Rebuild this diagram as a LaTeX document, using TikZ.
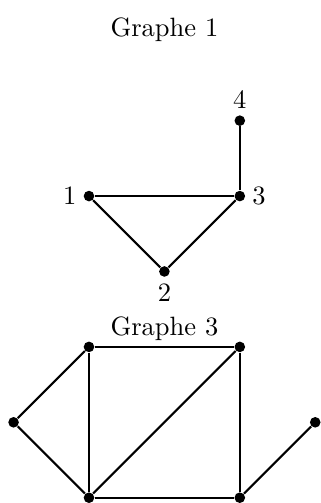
\documentclass[tikz,border=0pt]{standalone}
\usepackage{amsmath, amssymb}
\usepackage{xcolor}

\begin{document}
\begin{tikzpicture}[sommet/.style={circle, fill, inner sep=0pt, minimum size=4pt}, label distance=-1pt]
\useasboundingbox (-1.18,-4.07) rectangle (3.07,2.6);
\node (titre1) at (1,2.21) {Graphe 1};
\node (a1) [sommet, label=left:1] at (0,0) {};
\node (a2) [sommet, label=below:2] at (1,-1) {};
\node (a3) [sommet, label=right:3] at (2,0) {};
\node (a4) [sommet, label=above:4] at (2,1) {};

\draw [thick] (a1) -- (a3);
\draw [thick] (a1) -- (a2);
\draw [thick] (a2) -- (a3);
\draw [thick] (a3) -- (a4);

\node (titre3) at (1,-1.76) {Graphe 3};
\node (b1) [sommet] at (0,-2) {};
\node (b2) [sommet] at (2,-2) {};
\node (b3) [sommet] at (-1,-3) {};
\node (b4) [sommet] at (3,-3) {};
\node (b5) [sommet] at (0,-4) {};
\node (b6) [sommet] at (2,-4) {};

\draw [thick] (b1) -- (b2);
\draw [thick] (b1) -- (b3);
\draw [thick] (b3) -- (b5);
\draw [thick] (b1) -- (b5);
\draw [thick] (b5) -- (b2);
\draw [thick] (b2) -- (b6);
\draw [thick] (b5) -- (b6);
\draw [thick] (b6) -- (b4);
\end{tikzpicture}
\end{document}
